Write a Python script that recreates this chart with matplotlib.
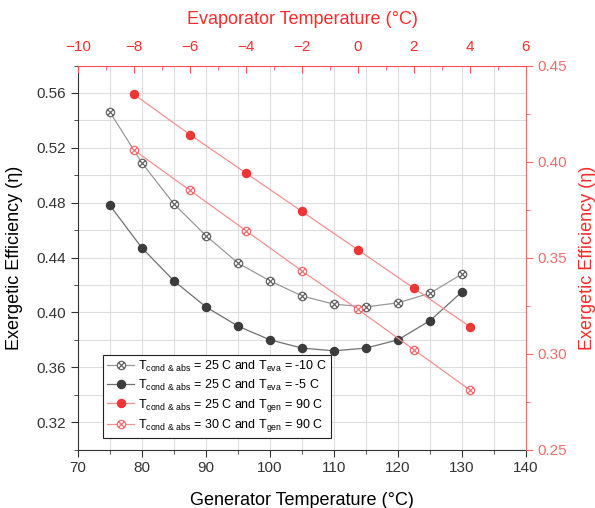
import matplotlib
matplotlib.use('Agg')
import matplotlib.pyplot as plt
from matplotlib.path import Path
from matplotlib.ticker import MultipleLocator
from matplotlib.mathtext import MathTextParser

plt.rcParams['font.family'] = ['Liberation Sans', 'DejaVu Sans']
plt.rcParams['mathtext.fontset'] = 'custom'
plt.rcParams['mathtext.rm'] = 'Liberation Sans'
plt.rcParams['mathtext.it'] = 'Liberation Sans'

# generator temperature series (bottom / left axes)
t_gen = [75, 80, 85, 90, 95, 100, 105, 110, 115, 120, 125, 130]
eta_eva_m10 = [0.546, 0.509, 0.479, 0.456, 0.436, 0.423, 0.412, 0.406, 0.404, 0.407, 0.414, 0.428]
eta_eva_m5 = [0.478, 0.447, 0.423, 0.404, 0.390, 0.380, 0.374, 0.372, 0.374, 0.380, 0.394, 0.415]

# evaporator temperature series (top / right axes)
t_eva = [-8, -6, -4, -2, 0, 2, 4]
eta_cond25 = [0.435, 0.414, 0.394, 0.374, 0.354, 0.334, 0.314]
eta_cond30 = [0.406, 0.385, 0.364, 0.343, 0.323, 0.302, 0.281]

# pick a subscript form that mathtext accepts
_parser = MathTextParser('path')
sub_cond = None
for cand in [r'$\mathrm{T_{cond\ &\ abs}}$', r'$\mathrm{T}_{\mathrm{cond}\ \&\ \mathrm{abs}}$',
             r'$\mathrm{T_{cond\ and\ abs}}$']:
    try:
        _parser.parse(cand)
        sub_cond = cand
        break
    except Exception:
        pass

labels = [
    sub_cond + r' = 25 C and $\mathrm{T_{eva}}$ = -10 C',
    sub_cond + r' = 25 C and $\mathrm{T_{eva}}$ = -5 C',
    sub_cond + r' = 25 C and $\mathrm{T_{gen}}$ = 90 C',
    sub_cond + r' = 30 C and $\mathrm{T_{gen}}$ = 90 C',
]

# circle with a cross inside (⊗ marker)
d = 0.7071
cross = Path([(-d, -d), (d, d), (-d, d), (d, -d)],
             [Path.MOVETO, Path.LINETO, Path.MOVETO, Path.LINETO])
otimes = Path.make_compound_path(Path.unit_circle(), cross)

red_bright = '#ff2a2a'
red_axis = '#f26b6b'

fig = plt.figure(figsize=(5.95, 5.08), dpi=100)
pos = [0.131, 0.115, 0.753, 0.756]
ax = fig.add_axes(pos)
ax2 = fig.add_axes(pos)
ax2.patch.set_visible(False)

# main axes
l1, = ax.plot(t_gen, eta_eva_m10, color='#999999', lw=0.9, marker=otimes,
              ms=6, mfc='white', mec='#666666', mew=0.9)
l2, = ax.plot(t_gen, eta_eva_m5, color='#707070', lw=0.9, marker='o',
              ms=5.8, mfc='#3c3c3c', mec='#3c3c3c')
ax.set_xlim(70, 140)
ax.set_ylim(0.30, 0.58)
ax.xaxis.set_major_locator(MultipleLocator(10))
ax.xaxis.set_minor_locator(MultipleLocator(5))
ax.yaxis.set_major_locator(MultipleLocator(0.04))
ax.yaxis.set_minor_locator(MultipleLocator(0.02))
ax.yaxis.set_major_formatter(plt.FormatStrFormatter('%.2f'))
ax.grid(True, which='both', color='#dddddd', lw=0.8)
ax.set_axisbelow(True)
ax.spines['top'].set_visible(False)
ax.spines['right'].set_visible(False)
for s in ['left', 'bottom']:
    ax.spines[s].set_color('#333333')
ax.tick_params(which='major', direction='out', length=5, labelsize=11,
               colors='#333333', labelcolor='#333333')
ax.tick_params(which='minor', direction='out', length=3, colors='#333333')
ax.set_xlabel('Generator Temperature (°C)', fontsize=13, labelpad=12)
ax.set_ylabel('Exergetic Efficiency (η)', fontsize=13, labelpad=10)

# secondary axes (top / right)
l3, = ax2.plot(t_eva, eta_cond25, color='#f59090', lw=0.9, marker='o',
               ms=5.8, mfc='#f03535', mec='#f03535')
l4, = ax2.plot(t_eva, eta_cond30, color='#f59090', lw=0.9, marker=otimes,
               ms=6, mfc='white', mec='#f07070', mew=0.9)
ax2.set_xlim(-10, 6)
ax2.set_ylim(0.25, 0.45)
ax2.xaxis.tick_top()
ax2.xaxis.set_label_position('top')
ax2.yaxis.tick_right()
ax2.yaxis.set_label_position('right')
ax2.xaxis.set_major_locator(MultipleLocator(2))
ax2.xaxis.set_minor_locator(MultipleLocator(1))
ax2.yaxis.set_major_locator(MultipleLocator(0.05))
ax2.yaxis.set_minor_locator(MultipleLocator(0.025))
ax2.yaxis.set_major_formatter(plt.FormatStrFormatter('%.2f'))
ax2.spines['left'].set_visible(False)
ax2.spines['bottom'].set_visible(False)
ax2.spines['top'].set_color('#ff5050')
ax2.spines['right'].set_color(red_axis)
ax2.tick_params(axis='x', which='major', direction='in', length=5, pad=8,
                labelsize=11, colors='#ff5050', labelcolor=red_bright)
ax2.tick_params(axis='x', which='minor', direction='in', length=3, colors='#ff5050')
ax2.tick_params(axis='y', which='major', direction='out', length=5,
                labelsize=11, colors=red_axis, labelcolor=red_axis)
ax2.tick_params(axis='y', which='minor', direction='out', length=3, colors=red_axis)
ax2.set_xlabel('Evaporator Temperature (°C)', fontsize=13, color=red_bright, labelpad=12)
ax2.set_ylabel('Exergetic Efficiency (η)', fontsize=13, color=red_bright, labelpad=8)

leg = ax2.legend([l1, l2, l3, l4], labels, loc='lower left',
                 bbox_to_anchor=(0.056, 0.03), borderaxespad=0, fontsize=9,
                 fancybox=False, framealpha=1, edgecolor='#222222',
                 handlelength=2.2, handletextpad=0.3, labelspacing=0.3,
                 borderpad=0.3)
leg.get_frame().set_linewidth(0.8)

plt.savefig('out.png', dpi=100)
